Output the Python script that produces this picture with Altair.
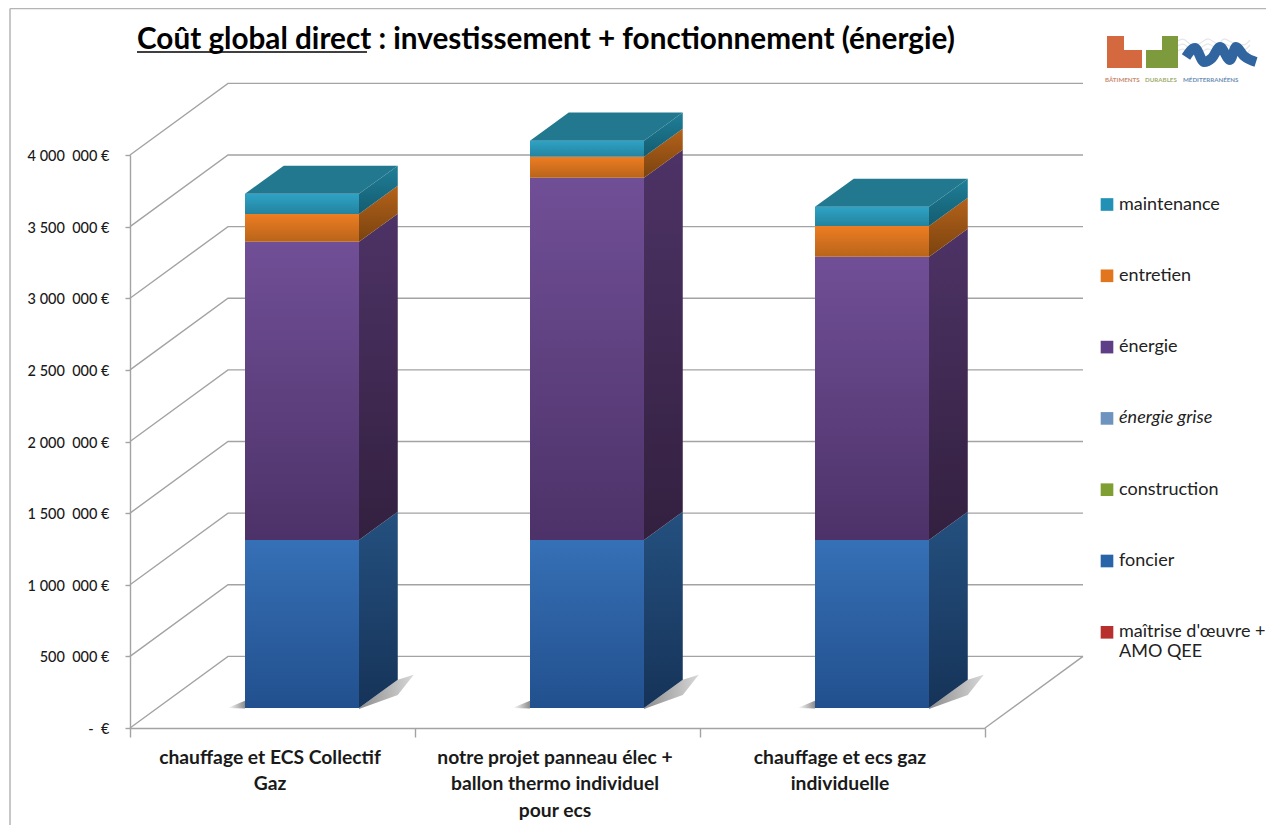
import json
import altair as alt
import pandas as pd

# ---- data ----
CATEGORIES = ["chauffage et ECS Collectif\nGaz",
              "notre projet panneau élec +\nballon thermo individuel\npour ecs",
              "chauffage et ecs gaz\nindividuelle"]
foncier = [1173000, 1173000, 1173000]
energie = [2081000, 2528000, 1976000]
entretien = [195000, 147000, 216000]
maintenance = [140000, 112000, 133000]
TICKS = [0, 500000, 1000000, 1500000, 2000000, 2500000, 3000000, 3500000, 4000000]
LEGEND_LABELS = ["maintenance", "entretien", "énergie", "énergie grise", "construction",
                 "foncier", "maîtrise d'œuvre +\nAMO QEE"]
LEGEND_COLORS = ["#2291b5", "#e2761f", "#5e3f87", "#6f93bf", "#7f9f33", "#2a64a8", "#b8302e"]
TITLE = "Coût global direct : investissement + fonctionnement (énergie)"

# 3-D geometry, in data units
WALL_X, WALL_V = 98 / 285, 500000
BAR_LEFT, BAR_W = 0.4035, 0.4
BAR_BASE = 140000
SIDE_X, SIDE_V = 0.136, 196000
GREY = "#a3a3a3"

FONT = "Lato"


def grad(top, bottom):
    return alt.Gradient(gradient="linear", x1=0, x2=0, y1=0, y2=1,
                        stops=[alt.GradientStop(offset=0, color=top),
                               alt.GradientStop(offset=1, color=bottom)])


def hgrad(left, right):
    return alt.Gradient(gradient="linear", x1=0, x2=1, y1=0, y2=0,
                        stops=[alt.GradientStop(offset=0, color=left),
                               alt.GradientStop(offset=1, color=right)])


XS = alt.Scale(domain=[0, 3], nice=False, zero=False)
YS = alt.Scale(domain=[0, 4000000], nice=False, zero=False)
X = alt.X("x:Q", scale=XS, title=None)
Y = alt.Y("y:Q", scale=YS, title=None)


def px(p):
    return (p - 130) / 285


def py(p):
    return (728 - p) / 573 * 4000000


# walls
grid_rows = []
for t in TICKS:
    grid_rows += [{"k": t, "x": 0, "y": t}, {"k": t, "x": WALL_X, "y": t + WALL_V},
                  {"k": t, "x": 3 + WALL_X, "y": t + WALL_V}]
grid_rows += [{"k": -1, "x": 3, "y": 0}, {"k": -1, "x": 3 + WALL_X, "y": WALL_V}]
grid = alt.Chart(pd.DataFrame(grid_rows)).mark_line(color=GREY, strokeWidth=1.4).encode(
    x=X, y=Y, detail="k:N")

# axes, on an empty-looking layer
label_arr = json.dumps([c.split("\n") for c in CATEGORIES], ensure_ascii=False)
axis_layer = alt.Chart(pd.DataFrame({"x": [0], "y": [0]})).mark_point(opacity=0).encode(
    x=alt.X("x:Q", scale=XS, title=None, axis=alt.Axis(
        values=[0, 0.5, 1, 1.5, 2, 2.5, 3], grid=False, domainColor=GREY, tickColor=GREY,
        domainWidth=1.4, tickWidth=1.4, tickSize=9, labelPadding=11, labelOffset=-3,
        tickOpacity=alt.ExprRef("datum.value % 1 == 0 ? 1 : 0"),
        labelExpr=f"datum.value % 1 == 0 ? '' : {label_arr}[floor(datum.value)]",
        labelOverlap=False, labelBound=False, labelFlush=False, labelFont=FONT, labelFontSize=19.3,
        labelLimit=500, labelFontWeight="bold", labelColor="#1a1a1a", labelLineHeight=26.5, labelAngle=0)),
    y=alt.Y("y:Q", scale=YS, title=None, axis=alt.Axis(
        values=TICKS, grid=False, domainColor=GREY, tickColor=GREY, domainWidth=1.4, tickWidth=1.4,
        tickSize=5, labelPadding=16, labelFont=FONT, labelFontSize=14.5, labelFontWeight=500,
        labelOffset=1.5, labelColor="#1a1a1a",
        labelExpr="datum.value == 0 ? '-\u00a0\u00a0€' : "
                  "replace(replace(format(datum.value, ','), /,([0-9]{3})$/, '\u00a0\u00a0$1'), /,/g, ' ') + ' €'")),
)

# floor shadows
sh_l, sh_r = [], []
for i in range(3):
    left = i + BAR_LEFT
    right = left + BAR_W
    sh_l += [{"b": i, "x": left - 17 / 285, "y": BAR_BASE + 2000, "y2": BAR_BASE},
             {"b": i, "x": left, "y": BAR_BASE + 50000, "y2": BAR_BASE - 4000}]
    sh_r += [{"b": i, "x": right, "y": BAR_BASE, "y2": BAR_BASE - 8000},
             {"b": i, "x": right + SIDE_X, "y": BAR_BASE + SIDE_V, "y2": BAR_BASE + 90000},
             {"b": i, "x": right + SIDE_X + 16 / 285, "y": BAR_BASE + SIDE_V + 35000,
              "y2": BAR_BASE + SIDE_V + 35000}]
shadow_l = alt.Chart(pd.DataFrame(sh_l)).mark_area(color=hgrad("#ffffff", "#8c8c8c")).encode(
    x=X, y=Y, y2=alt.Y2("y2:Q"), detail="b:N")
shadow_r = alt.Chart(pd.DataFrame(sh_r)).mark_area(color=hgrad("#8c8c8c", "#d8d8d8")).encode(
    x=X, y=Y, y2=alt.Y2("y2:Q"), detail="b:N")

# stacked segments
SERIES = [
    (foncier, "#3670b6", "#22508e", "#24507f", "#163358"),
    (energie, "#714f97", "#4c3268", "#4d3366", "#33203f"),
    (entretien, "#ee7d22", "#b8641a", "#b5621a", "#7a430f"),
    (maintenance, "#2fa3c6", "#23839f", "#1f7f98", "#145c70"),
]
layers = []
bottoms = [0, 0, 0]
for vals, ft, fb, st, sb in SERIES:
    fr, sd = [], []
    for i in range(3):
        lo, hi = bottoms[i] + BAR_BASE, bottoms[i] + vals[i] + BAR_BASE
        left = i + BAR_LEFT
        right = left + BAR_W
        fr.append({"x": left, "x2": right, "y": hi, "y2": lo})
        sd += [{"b": i, "x": right, "y": hi, "y2": lo},
               {"b": i, "x": right + SIDE_X, "y": hi + SIDE_V, "y2": lo + SIDE_V}]
        bottoms[i] += vals[i]
    layers.append(alt.Chart(pd.DataFrame(sd)).mark_area(color=grad(st, sb)).encode(
        x=X, y=Y, y2=alt.Y2("y2:Q"), detail="b:N"))
    layers.append(alt.Chart(pd.DataFrame(fr)).mark_rect(color=grad(ft, fb)).encode(
        x=X, x2=alt.X2("x2:Q"), y=Y, y2=alt.Y2("y2:Q")))

top_rows = []
for i in range(3):
    left = i + BAR_LEFT
    hi = bottoms[i] + BAR_BASE
    top_rows += [{"b": i, "y": hi, "x": left, "x2": left + BAR_W},
                 {"b": i, "y": hi + SIDE_V, "x": left + SIDE_X, "x2": left + BAR_W + SIDE_X}]
tops = alt.Chart(pd.DataFrame(top_rows)).mark_area(orient="horizontal", color="#22788f").encode(
    x=X, x2=alt.X2("x2:Q"), y=Y, detail="b:N")

# legend from a zero-height layer
legend_layer = alt.Chart(pd.DataFrame({"s": LEGEND_LABELS, "x": [0] * 7, "y": [0] * 7})).mark_rect(
    opacity=1).encode(
    x=X, x2=alt.X2("x:Q"), y=Y, y2=alt.Y2("y:Q"),
    color=alt.Color("s:N", scale=alt.Scale(domain=LEGEND_LABELS, range=LEGEND_COLORS), legend=alt.Legend(
        title=None, orient="none", legendX=968, legendY=40.5, symbolType="square", symbolSize=160,
        symbolOpacity=1, symbolStrokeWidth=0, labelFont=FONT, labelFontSize=18, labelColor="#222222",
        labelLimit=400, rowPadding=53.3, labelOffset=3, values=LEGEND_LABELS,
        labelFontStyle=alt.ExprRef("datum.label == 'énergie grise' ? 'italic' : 'normal'"),
        labelExpr="split(datum.label, '\\n')", labelBaseline="middle")),
)

# frame and title underline, in pixels relative to the plot
one = pd.DataFrame({"a": [0]})
frame_l = alt.Chart(one).mark_rule(color="#b4b4b4", strokeWidth=1.5).encode(
    x=alt.value(-120), y=alt.value(-146.5), y2=alt.value(670))
frame_t = alt.Chart(one).mark_rule(color="#b4b4b4", strokeWidth=1.5).encode(
    y=alt.value(-146.5), x=alt.value(-120), x2=alt.value(1136))
underline = alt.Chart(one).mark_rule(color="#000000", strokeWidth=1.6).encode(
    y=alt.value(-103), x=alt.value(7), x2=alt.value(237))

# logo
LOGO_RECTS = [(1107, 1124, 36, 68, "#d4693f"), (1124, 1142, 50, 68, "#d4693f"),
              (1162, 1178, 36, 68, "#7d9a3c"), (1146, 1162, 50, 68, "#7d9a3c")]
logo_df = pd.DataFrame([{"x": px(a), "x2": px(b), "y": py(c), "y2": py(d), "c": col}
                        for a, b, c, d, col in LOGO_RECTS])
logo_rects = alt.Chart(logo_df).mark_rect().encode(
    x=X, x2=alt.X2("x2:Q"), y=Y, y2=alt.Y2("y2:Q"), color=alt.Color("c:N", scale=None, legend=None))
WAVE_X = [1186, 1195, 1204, 1212, 1220, 1230, 1236, 1244, 1256]
WAVE_Y = [57, 48, 62, 58, 47, 60, 47, 56, 62]
wave = alt.Chart(pd.DataFrame({"x": [px(p) for p in WAVE_X], "y": [py(p) for p in WAVE_Y]})).mark_line(
    color="#31659f", strokeWidth=10, interpolate="monotone").encode(x=X, y=Y)
faint = []
for k, off in enumerate([14, 19, 24]):
    for a, b in zip(WAVE_X + [1262], WAVE_Y + [50]):
        faint.append({"k": k, "x": px(a - 12), "y": py(b * 0.4 + 34 - off + 10)})
wave_bg = alt.Chart(pd.DataFrame(faint)).mark_line(
    color="#e4e6e8", strokeWidth=1.2, interpolate="monotone").encode(x=X, y=Y, detail="k:N")
LOGO_WORDS = [("BÂTIMENTS", 1105, "#c98a70"), ("DURABLES", 1145, "#9fae70"), ("MÉDITERRANÉENS", 1183, "#6f8fb5")]
logo_text = [alt.Chart(one).mark_text(text=w, font=FONT, fontSize=6.2, fontWeight="bold", align="left",
                                      color=c, baseline="middle").encode(
    x=alt.value(p - 130), y=alt.value(80 - 155)) for w, p, c in LOGO_WORDS]

chart = alt.layer(
    axis_layer, grid, shadow_l, shadow_r, *layers, tops, legend_layer,
    frame_l, frame_t, underline, wave_bg, logo_rects, wave, *logo_text,
).properties(
    width=855, height=573,
    title=alt.TitleParams(TITLE, anchor="start", frame="group", dx=7, dy=47.5, offset=0, font=FONT,
                          fontSize=29.7, fontWeight="bold", color="#000000"),
    padding={"left": 122, "top": 147, "right": 281, "bottom": 97},
    autosize=alt.AutoSizeParams(type="none"),
    background="white",
).configure_view(stroke=None)

chart.save("out.html", embed_options={"renderer": "svg", "actions": False})
